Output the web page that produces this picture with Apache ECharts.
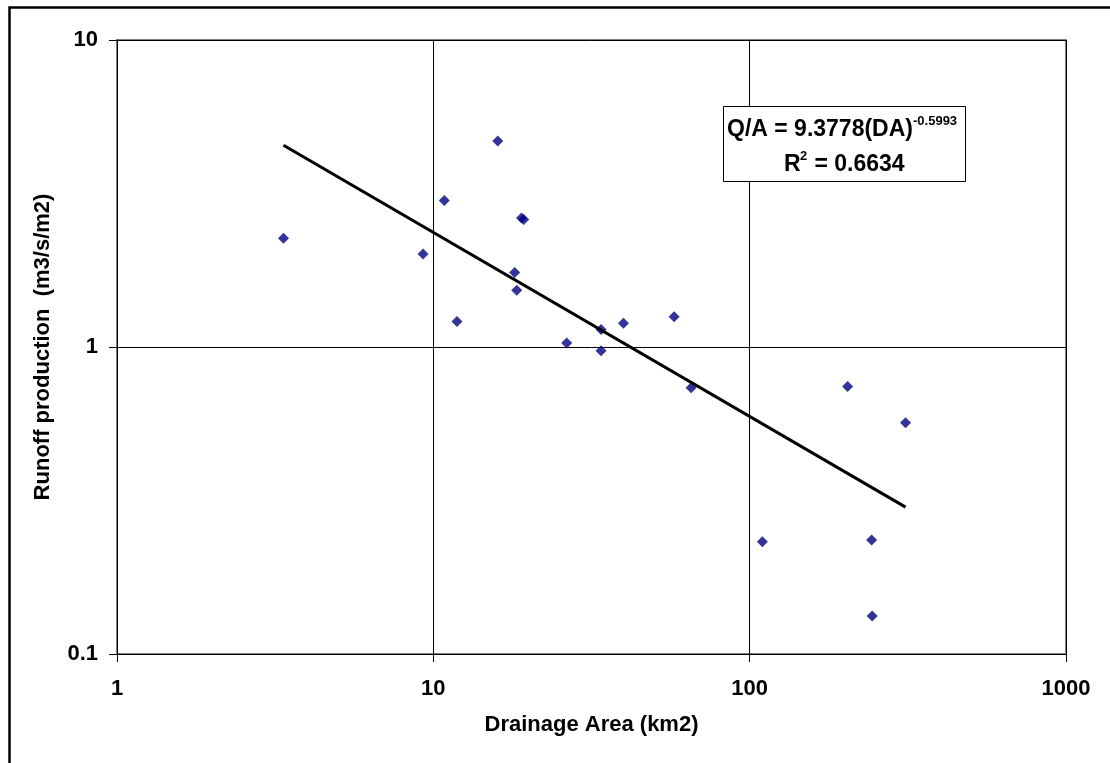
<!DOCTYPE html>
<html>
<head>
<meta charset="utf-8">
<script src="https://cdn.jsdelivr.net/npm/echarts@6/dist/echarts.min.js"></script>
<style>
html,body{margin:0;padding:0;background:#fff;}
#chart{width:1110px;height:763px;}
</style>
</head>
<body>
<div id="chart"></div>
<script>
// Observed data: drainage area (km2) and runoff production (m3/s/m2)
var drainageArea = [3.36, 9.28, 10.83, 11.88, 15.98, 18.08, 18.35, 19.0, 19.3, 26.4, 33.9, 33.9, 39.9, 57.7, 65.3, 109.7, 204, 243, 244, 311];
var runoff       = [2.26, 2.01, 3.00, 1.21, 4.69, 1.75, 1.53, 2.63, 2.60, 1.03, 1.14, 0.973, 1.195, 1.255, 0.737, 0.232, 0.743, 0.235, 0.133, 0.567];
// Power trendline end points (Q/A = 9.3778 DA^-0.5993)
var trendX = [3.36, 311];
var trendY = [4.54, 0.301];
var xTicks = [1, 10, 100, 1000];
var yTicks = [0.1, 1, 10];

var points = drainageArea.map(function (x, i) { return [x, runoff[i]]; });
var trend = trendX.map(function (x, i) { return [x, trendY[i]]; });

var FONT = '"Liberation Sans", Arial, sans-serif';
var chart = echarts.init(document.getElementById('chart'), null, {renderer: 'canvas'});
chart.setOption({
  animation: false,
  backgroundColor: '#fff',
  grid: {left: 117, right: 44, top: 40, bottom: 109, show: true, borderColor: '#808080', borderWidth: 2, backgroundColor: '#fff'},
  xAxis: {
    type: 'log', logBase: 10, min: xTicks[0], max: xTicks[xTicks.length - 1],
    name: 'Drainage Area (km2)', nameLocation: 'middle', nameGap: 60,
    nameTextStyle: {fontFamily: FONT, fontWeight: 'bold', fontSize: 22, color: '#000'},
    axisLine: {show: true, lineStyle: {color: '#000', width: 1}},
    axisTick: {show: true, inside: false, length: 8, lineStyle: {color: '#000'}},
    minorTick: {show: false},
    axisLabel: {fontFamily: FONT, fontWeight: 'bold', fontSize: 22, color: '#000', margin: 24,
      formatter: function (v) { return String(v); }},
    splitLine: {show: true, lineStyle: {color: '#000', width: 1}}
  },
  yAxis: {
    type: 'log', logBase: 10, min: yTicks[0], max: yTicks[yTicks.length - 1],
    name: 'Runoff production  (m3/s/m2)', nameLocation: 'middle', nameGap: 63, nameRotate: 90,
    nameTextStyle: {fontFamily: FONT, fontWeight: 'bold', fontSize: 22, color: '#000'},
    axisLine: {show: true, lineStyle: {color: '#000', width: 1}},
    axisTick: {show: true, inside: false, length: 8, lineStyle: {color: '#000'}},
    minorTick: {show: false},
    axisLabel: {fontFamily: FONT, fontWeight: 'bold', fontSize: 22, color: '#000', margin: 19,
      formatter: function (v) { return String(v); }},
    splitLine: {show: true, lineStyle: {color: '#000', width: 1}}
  },
  series: [
    {type: 'scatter', data: points, symbol: 'diamond', symbolSize: 11,
     itemStyle: {color: '#000080'}, z: 3},
    {type: 'line', data: trend, symbol: 'none', lineStyle: {color: '#000', width: 3}, z: 4}
  ],
  graphic: [
    {type: 'rect', left: 7, top: 5, shape: {width: 1300, height: 1000},
     style: {fill: 'none', stroke: '#000', lineWidth: 2.5}, silent: true, z: 100},
    {type: 'rect', shape: {x: 723.5, y: 106.5, width: 242, height: 75},
     style: {fill: '#fff', stroke: '#000', lineWidth: 1}, z: 50},
    {type: 'text', x: 727, y: 130, z: 51,
     style: {text: 'Q/A = 9.3778(DA)', font: 'bold 23px ' + FONT, fill: '#000', verticalAlign: 'middle', align: 'left'}},
    {type: 'text', x: 913, y: 121, z: 51,
     style: {text: '-0.5993', font: 'bold 13px ' + FONT, fill: '#000', verticalAlign: 'middle', align: 'left'}},
    {type: 'text', x: 784, y: 165, z: 51,
     style: {text: 'R', font: 'bold 23px ' + FONT, fill: '#000', verticalAlign: 'middle', align: 'left'}},
    {type: 'text', x: 800, y: 156, z: 51,
     style: {text: '2', font: 'bold 13px ' + FONT, fill: '#000', verticalAlign: 'middle', align: 'left'}},
    {type: 'text', x: 808, y: 165, z: 51,
     style: {text: ' = 0.6634', font: 'bold 23px ' + FONT, fill: '#000', verticalAlign: 'middle', align: 'left'}}
  ]
});
</script>
</body>
</html>
